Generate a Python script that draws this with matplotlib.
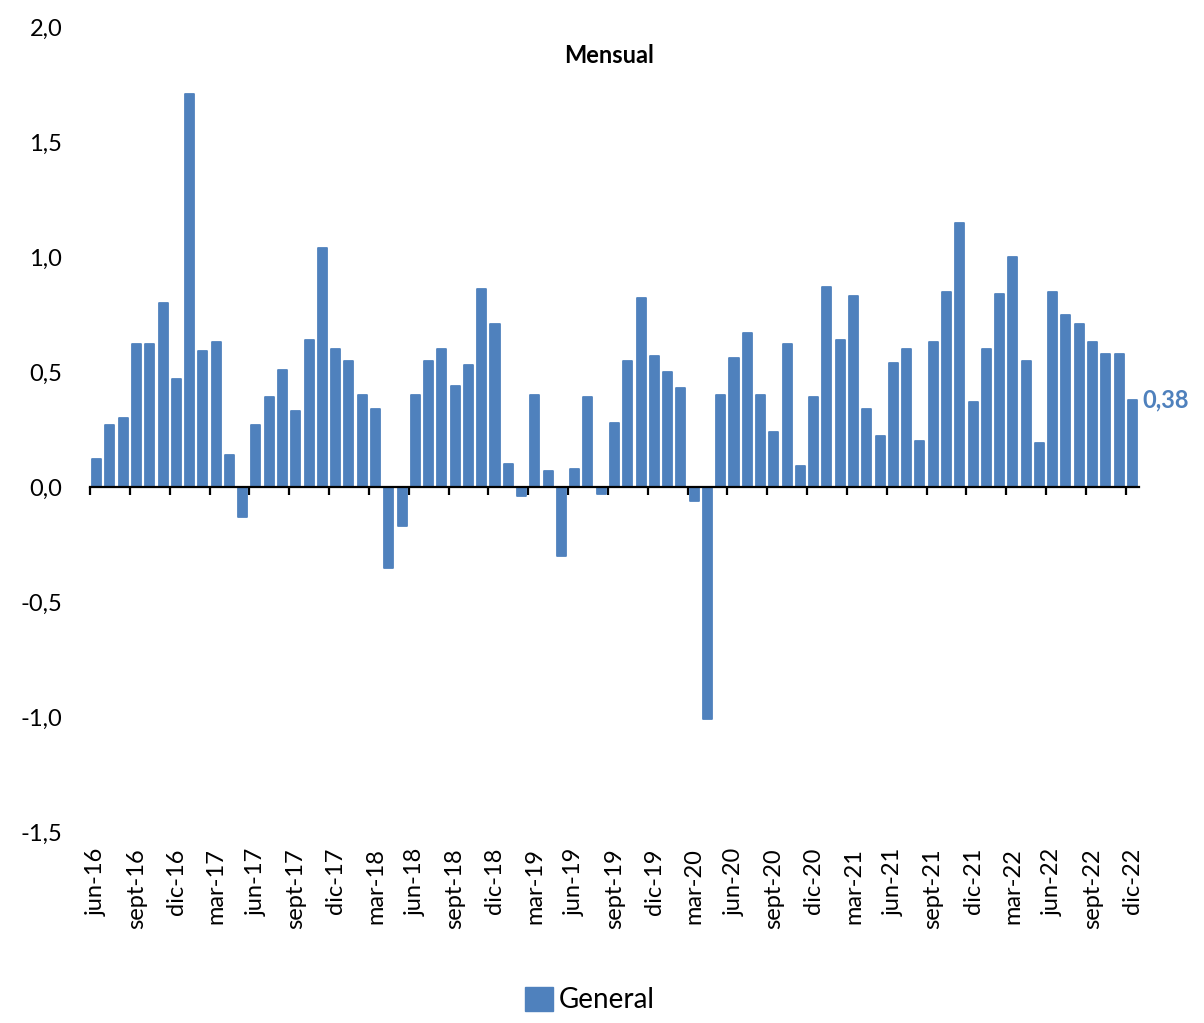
import matplotlib
matplotlib.use("Agg")
import matplotlib.pyplot as plt
from matplotlib.patches import Patch
import numpy as np

plt.rcParams['font.family'] = ['Lato', 'DejaVu Sans']

# Monthly change (%), jun-16 .. dic-22
meses = ['ene', 'feb', 'mar', 'abr', 'may', 'jun', 'jul', 'ago', 'sept', 'oct', 'nov', 'dic']
v2016 = [0.12, 0.27, 0.30, 0.62, 0.62, 0.80, 0.47]  # jun..dic
v2017 = [1.71, 0.59, 0.63, 0.14, -0.13, 0.27, 0.39, 0.51, 0.33, 0.64, 1.04, 0.60]
v2018 = [0.55, 0.40, 0.34, -0.35, -0.17, 0.40, 0.55, 0.60, 0.44, 0.53, 0.86, 0.71]
v2019 = [0.10, -0.04, 0.40, 0.07, -0.30, 0.08, 0.39, -0.03, 0.28, 0.55, 0.82, 0.57]
v2020 = [0.50, 0.43, -0.06, -1.01, 0.40, 0.56, 0.67, 0.40, 0.24, 0.62, 0.09, 0.39]
v2021 = [0.87, 0.64, 0.83, 0.34, 0.22, 0.54, 0.60, 0.20, 0.63, 0.85, 1.15, 0.37]
v2022 = [0.60, 0.84, 1.00, 0.55, 0.19, 0.85, 0.75, 0.71, 0.63, 0.58, 0.58, 0.38]

valores = v2016 + v2017 + v2018 + v2019 + v2020 + v2021 + v2022
etiquetas = [f"{m}-16" for m in meses[5:]]
for yy in range(17, 23):
    etiquetas += [f"{m}-{yy}" for m in meses]

azul = '#4F81BD'
x = np.arange(len(valores))

fig = plt.figure(figsize=(12.04, 10.23), dpi=100)
ax = fig.add_axes([90 / 1204, 1 - 832 / 1023, (1139 - 90) / 1204, (832 - 27) / 1023])

bars = ax.bar(x, valores, width=0.68, color=azul, edgecolor=azul, linewidth=1.3,
              zorder=2)
for b in bars:
    b.set_joinstyle('round')

ax.set_xlim(-0.5, len(valores) - 0.5)
ax.set_ylim(-1.5, 2.0)
ax.set_yticks(np.arange(-1.5, 2.01, 0.5))
ax.set_yticklabels([f"{t:.1f}".replace('.', ',') for t in np.arange(-1.5, 2.01, 0.5)],
                   fontsize=17)
ax.tick_params(axis='y', length=0, pad=20)

for s in ['top', 'right', 'left']:
    ax.spines[s].set_visible(False)
ax.spines['bottom'].set_position(('data', 0))
ax.spines['bottom'].set_linewidth(1.6)
ax.spines['bottom'].set_zorder(3)
ax.set_xticks(np.arange(-0.5, len(valores) - 0.5, 3))
ax.set_xticklabels([])
ax.tick_params(axis='x', direction='out', length=6, width=1.6)

# category labels every 3 months, placed under the plot
for i in range(0, len(valores), 3):
    ax.text(i, -1.57, etiquetas[i], rotation=90, ha='center', va='top', fontsize=17)

# last value label
ax.text(x[-1] + 0.75, valores[-1], f"{valores[-1]:.2f}".replace('.', ','),
        color=azul, fontsize=17, fontweight='bold', va='center', ha='left')

ax.text(0.495, 0.965, 'Mensual', transform=ax.transAxes, ha='center', va='center',
        fontsize=17, fontweight='bold')

fig.legend(handles=[Patch(facecolor=azul, edgecolor=azul, label='General')],
           loc='center', bbox_to_anchor=(590 / 1204, 1 - 1000 / 1023), frameon=False,
           fontsize=20, handlelength=1.0, handleheight=1.0, handletextpad=0.2)

fig.savefig('out.png', dpi=100)
